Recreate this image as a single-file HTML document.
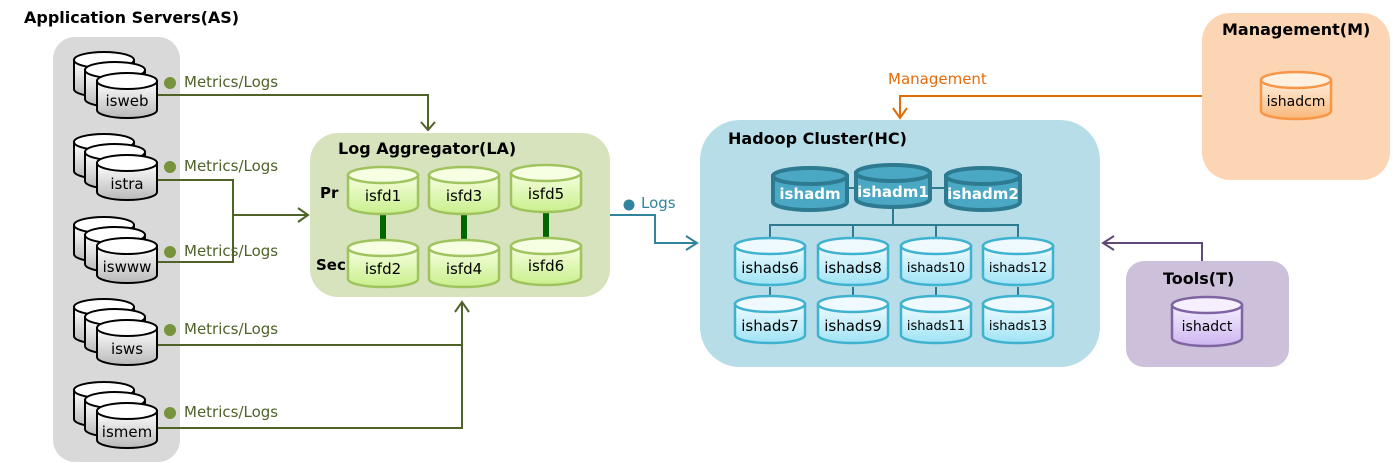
<!DOCTYPE html>
<html><head><meta charset="utf-8"><style>
html,body{margin:0;padding:0;background:#fff;}
svg{display:block;font-family:"DejaVu Sans","Liberation Sans",sans-serif;}
.t{font-weight:bold;font-size:16px;fill:#000;}
.c{font-size:15px;text-anchor:middle;fill:#000;}
.s{font-size:13px;}
.m{font-size:14px;}
</style></head><body>
<svg width="1397" height="463" viewBox="0 0 1397 463" xmlns="http://www.w3.org/2000/svg">
<defs>
<linearGradient id="gg" x1="0" y1="0" x2="0" y2="1"><stop offset="0" stop-color="#fff"/><stop offset="1" stop-color="#b9b9b9"/></linearGradient>
<linearGradient id="lg" x1="0" y1="0" x2="0" y2="1"><stop offset="0" stop-color="#f6ffe0"/><stop offset="1" stop-color="#c9ef8c"/></linearGradient>
<linearGradient id="bg" x1="0" y1="0" x2="0" y2="1"><stop offset="0" stop-color="#f0fbff"/><stop offset="1" stop-color="#9fe3f5"/></linearGradient>
<linearGradient id="og" x1="0" y1="0" x2="0" y2="1"><stop offset="0" stop-color="#fff0e0"/><stop offset="1" stop-color="#fbb77a"/></linearGradient>
<linearGradient id="pg" x1="0" y1="0" x2="0" y2="1"><stop offset="0" stop-color="#f5efff"/><stop offset="1" stop-color="#cdb6ef"/></linearGradient>
<g id="gc"><path d="M-30,8 V37 A30,8 0 0 0 30,37 V8 Z" fill="url(#gg)" stroke="#000" stroke-width="2"/><ellipse cx="0" cy="8" rx="30" ry="8" fill="#fff" stroke="#000" stroke-width="2"/></g>
<g id="stack"><use href="#gc" x="104" y="52"/><use href="#gc" x="115" y="62"/><use href="#gc" x="127" y="73"/></g>
<g id="lc"><path d="M-35,8 V39 A35,8 0 0 0 35,39 V8 Z" fill="url(#lg)" stroke="#9fc45e" stroke-width="2.5"/><ellipse cx="0" cy="8" rx="35" ry="8" fill="#f6ffe2" stroke="#9fc45e" stroke-width="2.5"/></g>
<g id="bc"><path d="M-35,8 V39 A35,8 0 0 0 35,39 V8 Z" fill="url(#bg)" stroke="#3fb2cf" stroke-width="2.5"/><ellipse cx="0" cy="8" rx="35" ry="8" fill="#eefaff" stroke="#3fb2cf" stroke-width="2.5"/></g>
<g id="dc"><path d="M-37,8 V34 A37,8 0 0 0 37,34 V8 Z" fill="#4aa8c4" stroke="#2d7a91" stroke-width="4"/><ellipse cx="0" cy="8" rx="37" ry="8" fill="#4aa8c4" stroke="#2d7a91" stroke-width="4"/></g>
</defs>

<rect x="53" y="37" width="127" height="425" rx="22" fill="#d9d9d9"/>
<rect x="310" y="133" width="300" height="164" rx="28" fill="#d7e3bd"/>
<rect x="700" y="120" width="400" height="247" rx="40" fill="#b7dde8"/>
<rect x="1202" y="13" width="188" height="167" rx="28" fill="#fcd5b4"/>
<rect x="1126" y="261" width="163" height="106" rx="18" fill="#ccc0da"/>

<text x="24" y="23" class="t">Application Servers(AS)</text>
<text x="338" y="154" class="t">Log Aggregator(LA)</text>
<text x="728" y="144" class="t">Hadoop Cluster(HC)</text>
<text x="1222" y="35" class="t">Management(M)</text>
<text x="1163" y="284" class="t">Tools(T)</text>

<g fill="none" stroke="#4f6228" stroke-width="2">
<path d="M157,95 H428 V129"/><path d="M421,122 L428,130 L435,122"/>
<path d="M157,180 H233 V262 H157"/><path d="M233,215 H307"/><path d="M298,208 L308,215 L298,222"/>
<path d="M157,345 H462"/><path d="M157,428 H462 V303"/><path d="M455,312 L462,302 L469,312"/>
</g>
<g fill="#77933c">
<circle cx="170" cy="83" r="6"/><circle cx="170" cy="167" r="6"/><circle cx="170" cy="252" r="6"/><circle cx="170" cy="330" r="6"/><circle cx="170" cy="413" r="6"/>
</g>
<g font-size="15" fill="#4f6228">
<text x="184" y="87">Metrics/Logs</text><text x="184" y="171">Metrics/Logs</text><text x="184" y="256">Metrics/Logs</text><text x="184" y="334">Metrics/Logs</text><text x="184" y="417">Metrics/Logs</text>
</g>

<use href="#stack" y="0"/><use href="#stack" y="82"/><use href="#stack" y="165"/><use href="#stack" y="247"/><use href="#stack" y="330"/>
<text x="127" y="106" class="c">isweb</text><text x="127" y="189" class="c">istra</text><text x="127" y="272" class="c">iswww</text><text x="127" y="354" class="c">isws</text><text x="127" y="437" class="c">ismem</text>

<g stroke="#006600" stroke-width="6"><path d="M383,212 V243"/><path d="M464,212 V243"/><path d="M546,210 V240"/></g>
<use href="#lc" x="383" y="167"/><use href="#lc" x="464" y="167"/><use href="#lc" x="546" y="165"/>
<use href="#lc" x="383" y="240"/><use href="#lc" x="464" y="240"/><use href="#lc" x="546" y="238"/>
<text x="320" y="198" class="t" style="font-size:15px">Pr</text><text x="316" y="270" class="t" style="font-size:15px">Sec</text>
<text x="383" y="201" class="c">isfd1</text><text x="464" y="201" class="c">isfd3</text><text x="546" y="199" class="c">isfd5</text>
<text x="383" y="274" class="c">isfd2</text><text x="464" y="274" class="c">isfd4</text><text x="546" y="271" class="c">isfd6</text>

<g fill="none" stroke="#31849b" stroke-width="2"><path d="M610,215 H655 V243 H697"/><path d="M686,236 L697,243 L686,250"/></g>
<circle cx="629" cy="205" r="5.5" fill="#31849b"/>
<text x="641" y="208" font-size="15" fill="#31849b">Logs</text>

<g fill="none" stroke="#2d7a91" stroke-width="2"><path d="M836,188 H856"/><path d="M930,188 H946"/><path d="M893,208 V225"/><path d="M770,242 V225 H1018 V242"/><path d="M853,225 V242"/><path d="M936,225 V242"/>
<path d="M770,287 V299"/><path d="M853,287 V299"/><path d="M936,287 V299"/><path d="M1018,287 V299"/></g>
<use href="#dc" x="810" y="168"/><use href="#dc" x="893" y="165"/><use href="#dc" x="983" y="168"/>
<g font-weight="bold" font-size="15" fill="#fff" text-anchor="middle"><text x="810" y="199">ishadm</text><text x="893" y="197">ishadm1</text><text x="983" y="199">ishadm2</text></g>
<use href="#bc" x="770" y="238"/><use href="#bc" x="853" y="238"/><use href="#bc" x="936" y="238"/><use href="#bc" x="1018" y="238"/>
<use href="#bc" x="770" y="296"/><use href="#bc" x="853" y="296"/><use href="#bc" x="936" y="296"/><use href="#bc" x="1018" y="296"/>
<text x="770" y="273" class="c">ishads6</text><text x="853" y="273" class="c">ishads8</text><text x="936" y="272" class="c s">ishads10</text><text x="1018" y="272" class="c s">ishads12</text>
<text x="770" y="331" class="c">ishads7</text><text x="853" y="331" class="c">ishads9</text><text x="936" y="330" class="c s">ishads11</text><text x="1018" y="330" class="c s">ishads13</text>

<g fill="none" stroke="#e36c0a" stroke-width="2"><path d="M1202,96 H900 V117"/><path d="M893,108 L900,118 L907,108"/></g>
<text x="888" y="84" font-size="15" fill="#e36c0a">Management</text>
<path d="M1261,80 V111 A35,8 0 0 0 1331,111 V80 Z" fill="url(#og)" stroke="#f79646" stroke-width="2.5"/><ellipse cx="1296" cy="80" rx="35" ry="8" fill="#fff0e0" stroke="#f79646" stroke-width="2.5"/>
<text x="1296" y="106" class="c m">ishadcm</text>

<g fill="none" stroke="#5f497a" stroke-width="2"><path d="M1202,261 V243 H1104"/><path d="M1114,236 L1103,243 L1114,250"/></g>
<path d="M1172,305 V338 A35,8 0 0 0 1242,338 V305 Z" fill="url(#pg)" stroke="#8064a2" stroke-width="2.5"/><ellipse cx="1207" cy="305" rx="35" ry="8" fill="#f5efff" stroke="#8064a2" stroke-width="2.5"/>
<text x="1207" y="331" class="c m">ishadct</text>
</svg>
</body></html>
